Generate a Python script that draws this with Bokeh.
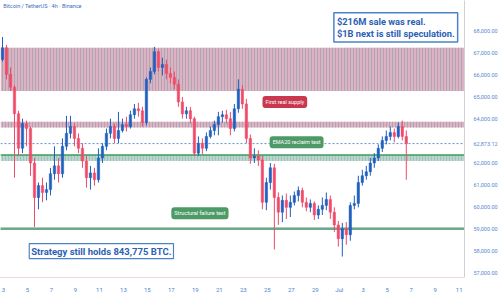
from bokeh.plotting import figure
from bokeh.models import Range1d, FixedTicker, NumeralTickFormatter, Label, ColumnDataSource
from bokeh.embed import file_html
from bokeh.resources import INLINE

# ---- data (BTC/USDT, 8h resampled) ----
start_day = 2.92          # day of June for first candle
step_day = 1 / 3          # 8h

opens = [66700, 67240, 66030, 65440, 64230, 62660, 63790, 63560, 61990, 60420,
         60960, 60650, 60780, 61500, 61860, 61500, 62750, 63340, 63650, 63110,
         62660, 62080, 61320, 61540, 61230, 62220, 62750, 63340, 63650, 63110,
         63470, 63740, 63650, 64190, 64460, 64370, 63830, 65800, 66160, 67060,
         66340, 66480, 66070, 65890, 65580, 64770, 64230, 64370, 64010, 62440,
         62890, 62660, 63200, 63470, 63740, 64100, 64190, 64010, 63560, 64460,
         65350, 64680, 63110, 62220, 62310, 62130, 60200, 61100, 61770, 60420,
         59750, 60290, 59970, 60200, 60510, 60740, 60200, 59970, 60150, 59620,
         59880, 60060, 60330, 59750, 59170, 58540, 58990, 58720, 60060, 60150,
         61100, 61410, 61590, 61990, 62220, 62660, 63020, 63200, 63380, 63200,
         63650, 63200]
highs = [67730, 67370, 66340, 65530, 64370, 64010, 63920, 63650, 62220, 61100,
         61320, 61100, 61770, 62750, 62220, 63110, 64140, 64140, 63790, 63340,
         62890, 62310, 61860, 61770, 62660, 62890, 63560, 64010, 63790, 64320,
         64010, 64100, 64370, 64680, 64730, 64550, 65890, 66340, 67280, 67150,
         66790, 66700, 66340, 66160, 65800, 65000, 64550, 64550, 64100, 63200,
         63110, 63380, 63650, 63920, 64320, 64370, 64410, 64320, 64680, 65800,
         65530, 64910, 63290, 62660, 62570, 62310, 61320, 61990, 61950, 60650,
         60510, 60600, 60510, 60690, 60920, 60870, 60420, 60330, 60240, 60060,
         60420, 60650, 60510, 59970, 59350, 59260, 59300, 60200, 60510, 61410,
         61680, 61860, 62220, 62440, 62840, 63200, 63470, 63650, 63560, 63830,
         63920, 63470]
lows = [66610, 65800, 65270, 61320, 62310, 62440, 62750, 61410, 59080, 59880,
        60200, 60290, 60510, 61230, 61100, 61320, 62570, 63110, 62750, 62440,
        61770, 60870, 60780, 60960, 61100, 61990, 62570, 63110, 62890, 62890,
        63380, 63430, 63560, 64010, 64100, 63650, 63700, 65620, 66030, 66160,
        65980, 65800, 65620, 65350, 64550, 64010, 64010, 63790, 62310, 62310,
        62400, 62530, 63110, 63250, 63250, 63830, 63790, 63250, 63430, 64280,
        64460, 62890, 61950, 61990, 61860, 59880, 59840, 60780, 58050, 59170,
        59300, 59440, 59530, 60060, 60240, 59970, 59790, 59750, 59390, 59440,
        59620, 59840, 59440, 58850, 58180, 57730, 58270, 58450, 59880, 59970,
        60960, 61230, 61410, 61770, 62080, 62490, 62840, 63020, 62930, 63110,
        63020, 61230]
closes = [67240, 66030, 65440, 64230, 62660, 63790, 63560, 61990, 60420, 60960,
          60650, 60780, 61500, 61860, 61500, 62750, 63340, 63650, 63110, 62660,
          62080, 61320, 61540, 61230, 62220, 62750, 63340, 63650, 63110, 63470,
          63740, 63650, 64190, 64460, 64370, 63830, 65800, 66160, 67060, 66340,
          66480, 66070, 65890, 65580, 64770, 64230, 64370, 64010, 62440, 62890,
          62660, 63200, 63470, 63740, 64100, 64190, 64010, 63560, 64460, 65350,
          64680, 63110, 62220, 62310, 62130, 60200, 61100, 61770, 60420, 59750,
          60290, 59970, 60200, 60510, 60740, 60200, 59970, 60150, 59620, 59880,
          60060, 60330, 59750, 59170, 58540, 58990, 58720, 60060, 60150, 61100,
          61410, 61590, 61990, 62220, 62660, 63020, 63200, 63380, 63200, 63650,
          63200, 62870]

# horizontal zones (price bands)
zone_bottom = [65265, 63610]
zone_top = [67240, 63870]
ema_band_bottom = [62080]
ema_band_top = [62350]
structural_level = 58990
last_price = 62873.12

tick_days = [3, 5, 7, 9, 11, 13, 15, 17, 19, 21, 23, 25, 27, 29, 31, 33, 35, 37, 39, 41]
tick_labels = ["3", "5", "7", "9", "11", "13", "15", "17", "19", "21", "23", "25",
               "27", "29", "Jul", "3", "5", "7", "9", "11"]
# the 63,000 label is covered by the last-price tag in the original
price_ticks = [57000, 58000, 59000, 60000, 61000, 62000, last_price, 64000, 65000,
               66000, 67000, 68000]

# ---- figure ----
X0, X1 = 2.753, 41.44
Y0, Y1 = 56775, 69392
FONT = "Roboto"

p = figure(width=500, height=295, output_backend="svg", toolbar_location=None,
           x_range=Range1d(X0, X1), y_range=Range1d(Y0, Y1),
           y_axis_location="right")
p.min_border_left = 0
p.min_border_top = 0
p.min_border_right = 30
p.min_border_bottom = 14
p.outline_line_color = None
p.background_fill_color = "white"
p.border_fill_color = "white"
p.xgrid.visible = False
p.ygrid.visible = False

# zones
p.quad(left=X0, right=X1, bottom=zone_bottom, top=zone_top,
       fill_color="#dcaabd", fill_alpha=0.9, line_color=None,
       hatch_pattern="vertical_line", hatch_color="#a6a6b0", hatch_scale=3,
       hatch_weight=1, hatch_alpha=0.9)
p.quad(left=X0, right=X1, bottom=ema_band_bottom, top=ema_band_top,
       fill_color="#a8d8c8", fill_alpha=0.9, line_color=None,
       hatch_pattern="vertical_line", hatch_color="#b0b0b8", hatch_scale=3,
       hatch_weight=1, hatch_alpha=0.8)
p.line([X0, X1], [ema_band_top[0], ema_band_top[0]], line_color="#3f9a5f", line_width=1.5)
p.line([X0, X1], [structural_level, structural_level], line_color="#9ab8b0", line_width=2.5)
p.line([X0, X1], [structural_level, structural_level], line_color="#3c9a64",
       line_width=2.5, line_dash="1 1")
p.line([X0, X1], [last_price, last_price], line_color="#5d8fd8", line_width=1,
       line_dash="2 2")

# candles
n = len(closes)
t = [start_day + i * step_day for i in range(n)]
colors = ["#1f5fbf" if c >= o else "#f04a68" for o, c in zip(opens, closes)]
src = ColumnDataSource(dict(t=t, o=opens, h=highs, l=lows, c=closes,
                            top=[max(a, b) for a, b in zip(opens, closes)],
                            bot=[min(a, b) for a, b in zip(opens, closes)],
                            col=colors))
p.segment(x0="t", y0="h", x1="t", y1="l", source=src, line_color="col", line_width=1)
p.vbar(x="t", width=0.2, top="top", bottom="bot", source=src,
       fill_color="col", line_color="col", line_width=0.5)

# axes
xa = p.xaxis[0]
xa.ticker = FixedTicker(ticks=tick_days)
xa.major_label_overrides = {d: lab for d, lab in zip(tick_days, tick_labels)}
xa.axis_line_color = "#e0a8b8"
xa.axis_line_dash = "1 1"
xa.major_tick_line_color = None
xa.minor_tick_line_color = None
xa.major_label_text_font_size = "6px"
xa.major_label_text_color = "#4a7fd0"
xa.major_label_text_font = FONT
xa.major_label_standoff = 2

ya = p.yaxis[0]
ya.ticker = FixedTicker(ticks=price_ticks)
ya.formatter = NumeralTickFormatter(format="0,0.00")
ya.axis_line_color = "#cfcfd4"
ya.major_tick_line_color = None
ya.minor_tick_line_color = None
ya.major_label_text_font_size = "5.5px"
ya.major_label_text_color = "#5a88d0"
ya.major_label_text_font = FONT
ya.major_label_standoff = 3

# text annotations
p.add_layout(Label(x=2.98, y=69120, text="Bitcoin / TetherUS · 4h · Binance",
                   text_font=FONT, text_font_size="5.5px", text_color="#3d6cc4",
                   text_baseline="middle", level="overlay"))

p.add_layout(Label(x=30.55, y=68170,
                   text="$216M sale was real.\n$1B next is still speculation.",
                   text_font=FONT, text_font_size="9.3px", text_font_style="bold",
                   text_color="#2b60b4", text_baseline="middle",
                   text_line_height=1.1,
                   background_fill_color="white", border_line_color="#4c83c8",
                   border_line_width=1.5, padding=3, level="overlay"))
p.add_layout(Label(x=5.15, y=57980, text="Strategy still holds 843,775 BTC.",
                   text_font=FONT, text_font_size="9.5px", text_font_style="bold",
                   text_color="#2b60b4", text_baseline="middle",
                   background_fill_color="white", border_line_color="#4c83c8",
                   border_line_width=1.2, padding=2, level="overlay"))

p.add_layout(Label(x=26.46, y=64770, text="First real supply", text_font=FONT,
                   text_font_size="5.5px", text_color="white", text_align="center",
                   text_baseline="middle", background_fill_color="#c9384e",
                   padding=3, border_radius=3, level="overlay"))
p.add_layout(Label(x=27.44, y=62930, text="EMA20 reclaim test", text_font=FONT,
                   text_font_size="5.5px", text_color="white", text_align="center",
                   text_baseline="middle", background_fill_color="#4d9a66",
                   padding=3, border_radius=3, level="overlay"))
p.add_layout(Label(x=19.38, y=59700, text="Structural failure test", text_font=FONT,
                   text_font_size="5.5px", text_color="white", text_align="center",
                   text_baseline="middle", background_fill_color="#4d9a66",
                   padding=3, border_radius=3, level="overlay"))

open("out.html", "w").write(file_html(p, INLINE))
